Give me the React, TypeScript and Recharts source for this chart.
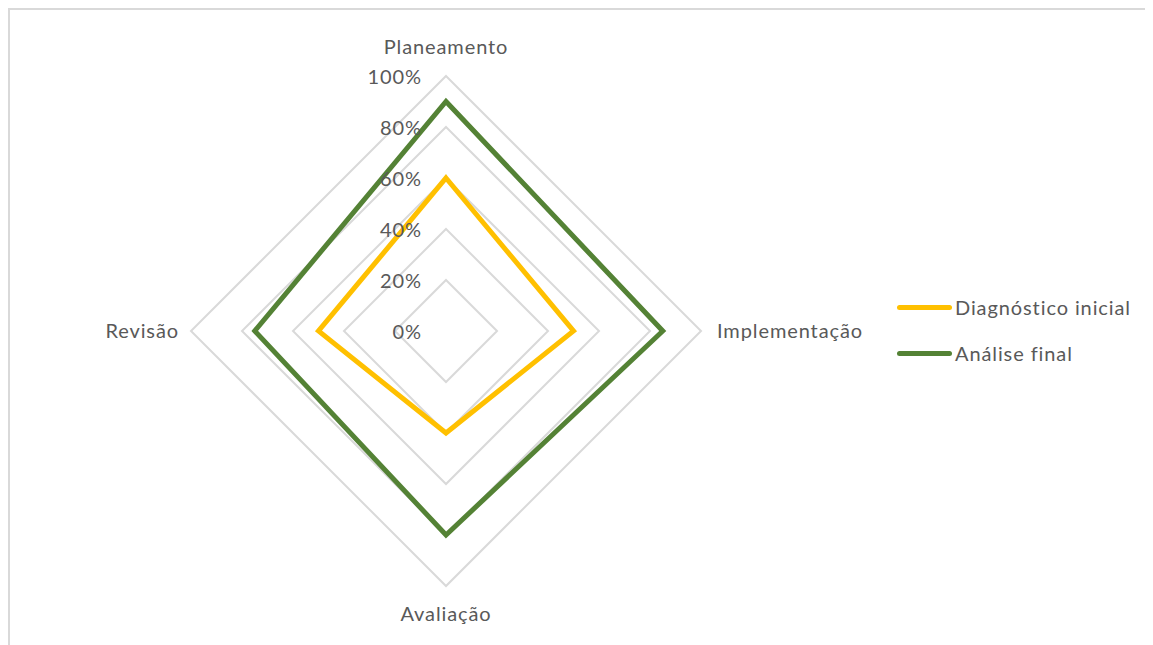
import React from "react";
import { RadarChart, Radar, PolarGrid, PolarAngleAxis, PolarRadiusAxis } from "recharts";

const categories = ["Planeamento", "Implementação", "Avaliação", "Revisão"];
const diagnosticoInicial = [0.6, 0.5, 0.4, 0.5];
const analiseFinal = [0.9, 0.85, 0.8, 0.75];
const radiusTicks = [0, 0.2, 0.4, 0.6, 0.8, 1];
const seriesNames = ["Diagnóstico inicial", "Análise final"];
const seriesColors = ["#FFC000", "#548235"];

const data = categories.map((c, i) => ({
  category: c,
  diag: diagnosticoInicial[i],
  final: analiseFinal[i],
}));

if (typeof document !== "undefined") {
  document.body.style.overflow = "hidden";
}

const FONT = "Lato, 'Open Sans', sans-serif";
const TEXT = "#595959";
const FS = 20;
const LS = 0.9;
const CX = 436;
const CY = 321;

const AngleTick = (props: any) => {
  const { x, y, payload } = props;
  const dxv = x - CX;
  const dyv = y - CY;
  let anchor = "middle";
  let tx = x;
  let ty = y;
  if (Math.abs(dxv) < 1) {
    if (dyv < 0) ty = y - 14;
    else ty = y + 27;
  } else if (dxv > 0) {
    anchor = "start";
    tx = x + 8;
    ty = y + 7;
  } else {
    anchor = "end";
    tx = x - 4;
    ty = y + 7;
  }
  return (
    <text x={tx} y={ty} textAnchor={anchor} fill={TEXT} fontSize={FS} fontFamily={FONT} letterSpacing={LS}>
      {payload.value}
    </text>
  );
};

const RadiusTick = (props: any) => {
  const { x, y, payload } = props;
  return (
    <text x={x - 24} y={y + 8} textAnchor="end" fill={TEXT} fontSize={FS} fontFamily={FONT} letterSpacing={LS}>
      {Math.round(payload.value * 100) + "%"}
    </text>
  );
};

export default function App() {
  return (
    <div
      style={{
        position: "relative",
        width: 1200,
        height: 700,
        borderTop: "2px solid #d9d9d9",
        borderLeft: "2px solid #d9d9d9",
        boxSizing: "border-box",
        background: "#fff",
      }}
    >
      <RadarChart
        width={1140}
        height={630}
        cx={CX}
        cy={CY}
        outerRadius={255}
        data={data}
        startAngle={90}
        endAngle={-270}
      >
        <PolarGrid gridType="polygon" radialLines={false} stroke="#d9d9d9" strokeWidth={2} />
        <PolarAngleAxis dataKey="category" tick={AngleTick} tickLine={false} axisLine={false} />
        <PolarRadiusAxis
          angle={90}
          domain={[0, 1]}
          ticks={radiusTicks as any}
          tick={RadiusTick}
          axisLine={false}
          tickLine={false}
          tickCount={6}
        />
        <Radar
          name={seriesNames[0]}
          dataKey="diag"
          stroke={seriesColors[0]}
          strokeWidth={5}
          fill="none"
          fillOpacity={0}
          dot={false}
          strokeLinejoin="miter"
          isAnimationActive={false}
        />
        <Radar
          name={seriesNames[1]}
          dataKey="final"
          stroke={seriesColors[1]}
          strokeWidth={5}
          fill="none"
          fillOpacity={0}
          dot={false}
          strokeLinejoin="miter"
          isAnimationActive={false}
        />
      </RadarChart>
      <div
        style={{
          position: "absolute",
          left: 887,
          top: 274,
          fontFamily: FONT,
          fontSize: FS,
          letterSpacing: LS,
          color: TEXT,
        }}
      >
        {seriesNames.map((n, i) => (
          <div key={n} style={{ display: "flex", alignItems: "center", height: 46 }}>
            <div style={{ width: 55, height: 5, borderRadius: 3, background: seriesColors[i], marginRight: 3 }} />
            <span>{n}</span>
          </div>
        ))}
      </div>
    </div>
  );
}
